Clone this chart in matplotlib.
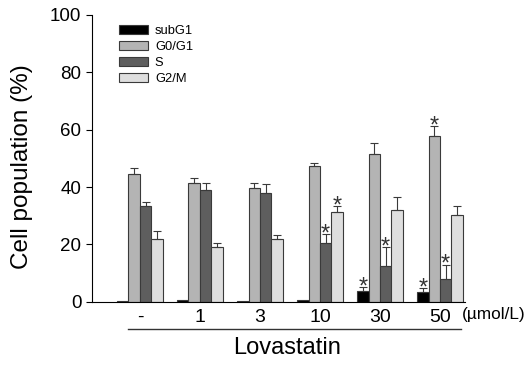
import numpy as np
import matplotlib.pyplot as plt

plt.rcParams['font.family'] = ['Liberation Sans', 'DejaVu Sans']

# data
doses = ['-', '1', '3', '10', '30', '50']
phases = ['subG1', 'G0/G1', 'S', 'G2/M']
colors = ['#000000', '#b4b4b4', '#5e5e5e', '#dedede']

subg1 = [0.2, 0.5, 0.3, 0.7, 3.7, 3.5]
g0g1 = [44.7, 41.3, 39.8, 47.5, 51.7, 57.8]
s_ph = [33.3, 38.9, 38.0, 20.6, 12.5, 8.1]
g2m = [21.8, 19.2, 21.8, 31.4, 31.9, 30.3]

subg1_err = [0.0, 0.0, 0.0, 0.0, 1.4, 1.4]
g0g1_err = [1.9, 1.8, 1.8, 0.8, 3.6, 3.4]
s_err = [1.5, 2.7, 3.0, 2.9, 6.5, 4.9]
g2m_err = [2.9, 1.2, 1.4, 2.0, 4.8, 3.1]

# significance marks (True = asterisk)
subg1_sig = [False, False, False, False, True, True]
g0g1_sig = [False, False, False, False, False, True]
s_sig = [False, False, False, True, True, True]
g2m_sig = [False, False, False, True, False, False]

values = [subg1, g0g1, s_ph, g2m]
errors = [subg1_err, g0g1_err, s_err, g2m_err]
sigs = [subg1_sig, g0g1_sig, s_sig, g2m_sig]

fig = plt.figure(figsize=(5.28, 3.65), dpi=100)
ax = fig.add_axes([0.174, 0.173, 0.707, 0.786])

x = np.arange(len(doses))
w = 0.19
offsets = [-1.5 * w, -0.5 * w, 0.5 * w, 1.5 * w]

for vals, errs, sig, col, off, name in zip(values, errors, sigs, colors, offsets, phases):
    ax.bar(x + off, vals, w, color=col, edgecolor='#3a3a3a', linewidth=0.8,
           label=name, zorder=2)
    for xi, v, e, sg in zip(x + off, vals, errs, sig):
        if e > 0:
            ax.errorbar(xi, v, yerr=[[0], [e]], fmt='none', ecolor='#3a3a3a',
                        elinewidth=0.8, capsize=3, capthick=0.8, zorder=3)
        if sg:
            ax.annotate('*', (xi, v + e), xytext=(0, -4.5), textcoords='offset points',
                        ha='center', va='baseline', fontsize=17, color='#333333')

ax.set_ylim(0, 100)
ax.set_xlim(-0.8, 5.42)
ax.set_yticks(np.arange(0, 101, 20))
ax.tick_params(axis='y', labelsize=13.5, length=4, width=0.8, direction='out')
ax.set_xticks(x)
ax.set_xticklabels(doses, fontsize=14)
ax.tick_params(axis='x', length=0, pad=5)
ax.spines['top'].set_visible(False)
ax.spines['right'].set_visible(False)
ax.spines['left'].set_linewidth(0.8)
ax.spines['bottom'].set_linewidth(0.8)

fig.text(22 / 528, 1 - 167 / 365, 'Cell population (%)', rotation=90,
         ha='center', va='center', fontsize=17.5)

trans = ax.get_xaxis_transform()
ax.text(5.9, -0.045, '(\u00b5mol/L)', transform=trans, ha='center', va='center',
        fontsize=12.4)
ax.plot([-0.2, 5.35], [-0.094, -0.094], transform=trans, color='#333333',
        linewidth=1.0, clip_on=False)
ax.text(2.45, -0.16, 'Lovastatin', transform=trans, ha='center', va='center',
        fontsize=17)

ax.legend(loc='upper left', bbox_to_anchor=(0.072, 0.965), frameon=False,
          fontsize=9.3, handlelength=2.25, handleheight=0.7, labelspacing=0.3,
          handletextpad=0.55, borderaxespad=0, borderpad=0)

fig.savefig('out.png', dpi=100)
